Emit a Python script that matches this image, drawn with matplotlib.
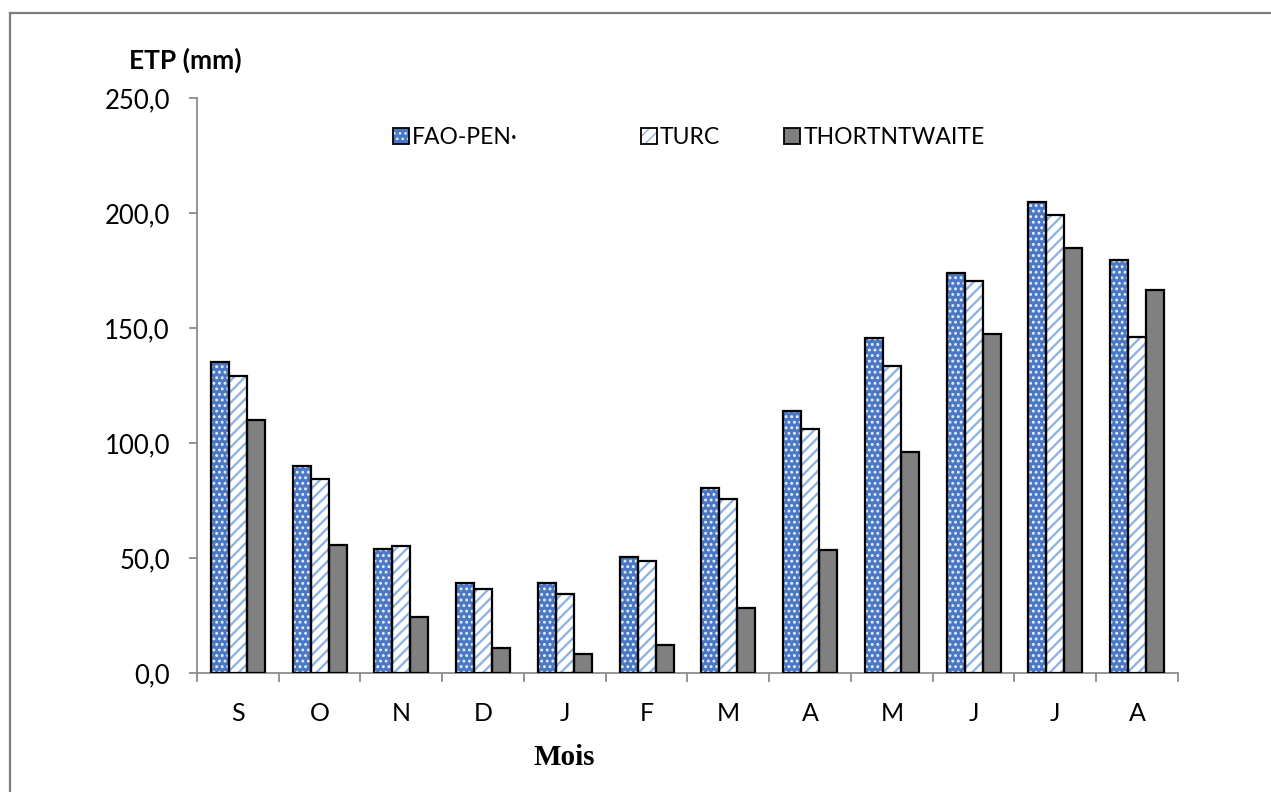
import matplotlib
matplotlib.use("Agg")
import matplotlib.pyplot as plt
import numpy as np
from matplotlib.lines import Line2D
from matplotlib.patches import Patch
from matplotlib.ticker import FuncFormatter, FixedLocator

months = ["S", "O", "N", "D", "J", "F", "M", "A", "M", "J", "J", "A"]
fao_pen = [135.2, 90.0, 53.9, 39.1, 39.1, 50.4, 80.4, 113.9, 145.7, 173.9, 204.8, 179.6]
turc = [129.1, 84.3, 55.2, 36.5, 34.3, 48.7, 75.7, 106.0, 133.5, 170.4, 199.1, 146.0]
thornthwaite = [110.0, 55.7, 24.3, 10.9, 8.3, 12.2, 28.3, 53.5, 96.0, 147.4, 184.8, 166.5]
series_names = ["FAO-PEN·", "TURC", "THORTNTWAITE"]
yticks = [0, 50, 100, 150, 200, 250]

plt.rcParams['font.family'] = ['Lato', 'DejaVu Sans']

fig = plt.figure(figsize=(12.71, 7.92), dpi=100)
ax = fig.add_axes([0.155, 0.1503, 0.7718, 0.726])

x = np.arange(len(months))
w = 0.22
styles = [
    dict(facecolor="#4a78c4", hatch_color="#e8eefa", hatch="...", hlw=1.3),
    dict(facecolor="white", hatch_color="#8fb4e3", hatch="///", hlw=1.7),
    dict(facecolor="#808080", hatch_color="#808080", hatch=None, hlw=1.0),
]
handles = []
for i, (vals, st) in enumerate(zip([fao_pen, turc, thornthwaite], styles)):
    plt.rcParams['hatch.linewidth'] = st["hlw"]
    xpos = x + (i - 1) * w
    ax.bar(xpos, vals, width=w, facecolor=st["facecolor"], edgecolor=st["hatch_color"],
           hatch=st["hatch"], linewidth=0, zorder=2)
    ax.bar(xpos, vals, width=w, fill=False, edgecolor="black", linewidth=1.6, zorder=3)
    h1 = Patch(facecolor=st["facecolor"], edgecolor=st["hatch_color"], hatch=st["hatch"], linewidth=0)
    h2 = Patch(fill=False, edgecolor="black", linewidth=1.3)
    handles.append((h1, h2))

ax.set_xlim(-0.5, 11.5)
ax.set_ylim(0, 250)
ax.set_xticks(x)
ax.set_xticklabels(months)
ax.xaxis.set_minor_locator(FixedLocator(np.arange(-0.5, 12, 1)))
ax.tick_params(axis='x', which='major', length=0, pad=21, labelsize=18)
ax.tick_params(axis='x', which='minor', length=6.5, width=1.3, color="#8c8c8c", direction='out')
ax.set_yticks(yticks)
ax.yaxis.set_major_formatter(FuncFormatter(lambda v, p: f"{v:.1f}".replace(".", ",")))
ax.tick_params(axis='y', length=5.5, width=1.3, color="#8c8c8c", pad=14, labelsize=18.5)
for s in ["top", "right"]:
    ax.spines[s].set_visible(False)
for s in ["left", "bottom"]:
    ax.spines[s].set_color("#8c8c8c")
    ax.spines[s].set_linewidth(1.3)

# legends (three separate entries)
leg_pos = [0.309, 0.504, 0.617]
for pos, h, name in zip(leg_pos, handles, series_names):
    fig.legend([h], [name], loc="center left", bbox_to_anchor=(pos, 0.826),
               frameon=False, fontsize=16.5, handlelength=0.7, handleheight=0.7,
               handletextpad=0.15, borderpad=0, borderaxespad=0)

fig.text(0.1455, 0.924, "ETP (mm)", ha="center", va="center", fontsize=19, fontweight="bold")
fig.text(0.444, 0.043, "Mois", ha="center", va="center", fontsize=21, fontweight="bold",
         family="Liberation Serif")

# partial frame border (left and top)
fig.add_artist(Line2D([10/1271, 10/1271], [0, 1-13/792], transform=fig.transFigure,
                      color="#7f7f7f", linewidth=1.6))
fig.add_artist(Line2D([10/1271, 1], [1-13/792, 1-13/792], transform=fig.transFigure,
                      color="#7f7f7f", linewidth=1.6))

fig.savefig("out.png", dpi=100)
